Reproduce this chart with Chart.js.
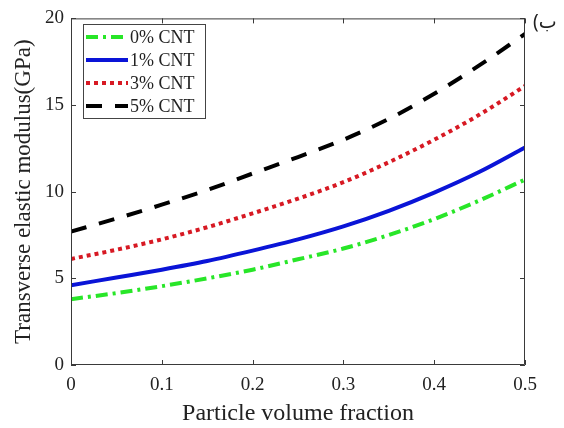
<!DOCTYPE html>
<html>
<head>
<meta charset="utf-8">
<script src="https://cdn.jsdelivr.net/npm/chart.js@4.4.0/dist/chart.umd.min.js"></script>
<style>
  html, body { margin: 0; padding: 0; background: #fff; }
  #wrap { width: 564px; height: 428px; position: relative; }
</style>
</head>
<body>
<div id="wrap"><canvas id="chart" width="564" height="428"></canvas></div>
<script>
// particle volume fraction
const fractions = [0, 0.05, 0.1, 0.15, 0.2, 0.25, 0.3, 0.35, 0.4, 0.45, 0.5];
const cnt0 = [3.8, 4.15, 4.55, 5.0, 5.5, 6.1, 6.72, 7.5, 8.42, 9.5, 10.7];
const cnt1 = [4.6, 5.05, 5.5, 6.0, 6.6, 7.25, 8.0, 8.9, 9.95, 11.15, 12.55];
const cnt3 = [6.12, 6.65, 7.25, 7.95, 8.75, 9.6, 10.55, 11.7, 13.0, 14.45, 16.1];
const cnt5 = [7.7, 8.45, 9.25, 10.1, 11.05, 12.0, 13.0, 14.2, 15.65, 17.3, 19.1];
const seriesNames = ['0% CNT', '1% CNT', '3% CNT', '5% CNT'];

const serif = "'Liberation Serif', 'Times New Roman', serif";

function pts(vals) {
  return vals.map((v, i) => ({ x: fractions[i], y: v }));
}

// box + inward ticks, matlab style
const boxPlugin = {
  id: 'box',
  afterDraw(chart) {
    const ctx = chart.ctx;
    const a = chart.chartArea;
    const xs = chart.scales.x, ys = chart.scales.y;
    ctx.save();
    ctx.strokeStyle = '#3a3a3a';
    ctx.lineWidth = 1;
    ctx.beginPath();
    ctx.rect(a.left + 0.5, a.top + 0.5, a.right - a.left - 1, a.bottom - a.top - 1);
    ctx.stroke();
    ctx.beginPath();
    xs.ticks.forEach(t => {
      const px = Math.round(xs.getPixelForValue(t.value)) + 0.5;
      ctx.moveTo(px, a.bottom); ctx.lineTo(px, a.bottom - 5);
      ctx.moveTo(px, a.top); ctx.lineTo(px, a.top + 5);
    });
    ys.ticks.forEach(t => {
      const py = Math.round(ys.getPixelForValue(t.value)) + 0.5;
      ctx.moveTo(a.left, py); ctx.lineTo(a.left + 5, py);
      ctx.moveTo(a.right, py); ctx.lineTo(a.right - 5, py);
    });
    ctx.stroke();

    // panel label
    ctx.fillStyle = '#222';
    ctx.font = "19px 'Noto Sans', 'DejaVu Sans', sans-serif";
    ctx.textBaseline = 'alphabetic';
    ctx.textAlign = 'left';
    ctx.fillText('(ب', 533, 28);
    ctx.restore();
  }
};

// legend drawn inside the plot
const insideLegend = {
  id: 'insideLegend',
  afterDatasetsDraw(chart) {
    const ctx = chart.ctx;
    const left = 83, top = 24, w = 122, h = 94;
    ctx.save();
    ctx.fillStyle = '#fff';
    ctx.fillRect(left, top, w, h);
    ctx.strokeStyle = '#444';
    ctx.lineWidth = 1;
    ctx.strokeRect(left + 0.5, top + 0.5, w, h);
    ctx.font = '18px ' + serif;
    ctx.textBaseline = 'middle';
    chart.data.datasets.forEach((ds, i) => {
      const y = top + 13 + i * 23;
      ctx.strokeStyle = ds.borderColor;
      ctx.lineWidth = ds.borderWidth;
      ctx.setLineDash(ds.borderDash || []);
      ctx.beginPath();
      ctx.moveTo(left + 3, y);
      ctx.lineTo(left + 45, y);
      ctx.stroke();
      ctx.setLineDash([]);
      ctx.fillStyle = '#222';
      ctx.fillText(ds.label, left + 47, y + 1);
    });
    ctx.restore();
  }
};

new Chart(document.getElementById('chart'), {
  type: 'line',
  data: {
    datasets: [
      { label: seriesNames[0], data: pts(cnt0), borderColor: 'rgb(40,230,40)', borderWidth: 4, borderDash: [12, 5, 3, 5] },
      { label: seriesNames[1], data: pts(cnt1), borderColor: 'rgb(10,20,215)', borderWidth: 4 },
      { label: seriesNames[2], data: pts(cnt3), borderColor: 'rgb(215,25,35)', borderWidth: 4, borderDash: [4, 4] },
      { label: seriesNames[3], data: pts(cnt5), borderColor: '#000', borderWidth: 4, borderDash: [16, 13] }
    ]
  },
  options: {
    responsive: false,
    animation: false,
    devicePixelRatio: 1,
    layout: { padding: { left: 0, right: 39, top: 12, bottom: 0 } },
    elements: {
      point: { radius: 0 },
      line: { cubicInterpolationMode: 'monotone', fill: false }
    },
    plugins: {
      legend: { display: false },
      tooltip: { enabled: false }
    },
    scales: {
      x: {
        type: 'linear',
        min: 0, max: 0.5,
        ticks: { stepSize: 0.1, color: '#222', font: { family: serif, size: 19 }, padding: 9 },
        grid: { display: false, drawTicks: false },
        border: { display: false },
        title: { display: true, text: 'Particle volume fraction', color: '#222', font: { family: serif, size: 24 }, padding: { top: 0, bottom: 0 } },
        afterFit(s) { s.height = 63; }
      },
      y: {
        min: 0, max: 20,
        ticks: { stepSize: 5, color: '#222', font: { family: serif, size: 19 }, padding: 7 },
        grid: { display: false, drawTicks: false },
        border: { display: false },
        title: { display: true, text: 'Transverse elastic modulus(GPa)', color: '#222', font: { family: serif, size: 23 }, padding: { top: 10, bottom: 0 } },
        afterFit(s) { s.width = 71; }
      }
    }
  },
  plugins: [boxPlugin, insideLegend]
});
</script>
</body>
</html>
